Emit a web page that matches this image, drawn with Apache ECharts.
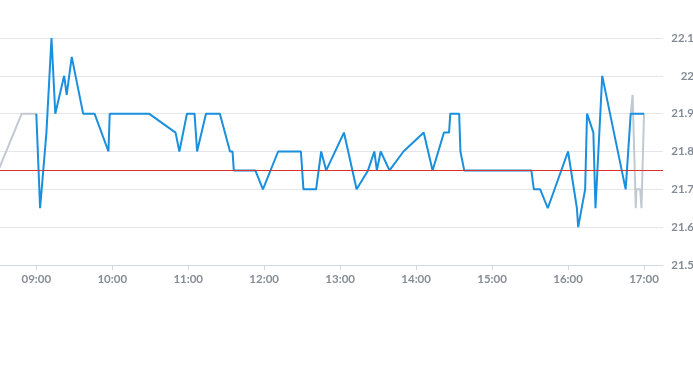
<!DOCTYPE html>
<html>
<head>
<meta charset="utf-8">
<script src="https://cdn.jsdelivr.net/npm/echarts@6/dist/echarts.min.js"></script>
<style>
html,body{margin:0;padding:0;background:#fff;}
#chart{width:693px;height:365px;}
</style>
</head>
<body>
<div id="chart"></div>
<script>
// Regular session (blue)
const sessionTimes = ["09:00","09:03","09:08","09:12","09:15","09:22","09:24","09:28","09:37","09:46","09:57","09:58","10:29","10:50","10:53","10:59","11:05","11:07","11:14","11:25","11:33","11:35","11:36","11:53","11:59","12:11","12:29","12:31","12:41","12:45","12:49","13:03","13:13","13:22","13:27","13:29","13:32","13:39","13:50","14:06","14:13","14:22","14:26","14:27","14:34","14:35","14:38","15:31","15:33","15:38","15:44","16:00","16:07","16:08","16:13:30","16:15","16:20","16:21:40","16:27","16:45:30","16:49:30","17:00"];
const sessionValues = [21.9,21.65,21.85,22.1,21.9,22.0,21.95,22.05,21.9,21.9,21.8,21.9,21.9,21.85,21.8,21.9,21.9,21.8,21.9,21.9,21.8,21.8,21.75,21.75,21.7,21.8,21.8,21.7,21.7,21.8,21.75,21.85,21.7,21.75,21.8,21.75,21.8,21.75,21.8,21.85,21.75,21.85,21.85,21.9,21.9,21.8,21.75,21.75,21.7,21.7,21.65,21.8,21.65,21.6,21.7,21.9,21.85,21.65,22.0,21.7,21.9,21.9];
// Extended hours (gray)
const preTimes = ["08:30","08:48:30","09:00"];
const preValues = [21.75,21.9,21.9];
const postTimes = ["16:49:30","16:51","16:53:30","16:54","16:57","16:58","17:00"];
const postValues = [21.9,21.95,21.65,21.7,21.7,21.65,21.9];
const prevClose = 21.75;
const axisStart = "08:31:20";
const axisEnd = "17:15";
const yTicks = [21.5,21.6,21.7,21.8,21.9,22.0,22.1];

function toTs(s){
  const p = s.split(':').map(Number);
  return new Date(2024,0,2,p[0],p[1],p[2]||0).getTime();
}
function pairs(ts, vs){ return ts.map((t,i)=>[toTs(t), vs[i]]); }
const extData = pairs(preTimes, preValues).concat([[null, null]]).concat(pairs(postTimes, postValues));

const chart = echarts.init(document.getElementById('chart'), null, {renderer:'canvas'});
const labelColor = '#858c96';
chart.setOption({
  animation:false,
  backgroundColor:'#ffffff',
  grid:{left:0, right:30, top:38, bottom:100, containLabel:false, outerBoundsMode:'none'},
  xAxis:{
    type:'time',
    min: toTs(axisStart),
    max: toTs(axisEnd),
    minInterval: 3600000,
    maxInterval: 3600000,
    axisLine:{show:true, lineStyle:{color:'#d3d8df', width:1}},
    axisTick:{show:true, length:5, lineStyle:{color:'#d3d8df'}},
    splitLine:{show:false},
    axisLabel:{
      color:labelColor, fontFamily:'Lato', fontWeight:700, fontSize:11.5, margin:8,
      hideOverlap:false,
      formatter:function(v){
        const d = new Date(v);
        return String(d.getHours()).padStart(2,'0') + ':' + String(d.getMinutes()).padStart(2,'0');
      }
    }
  },
  yAxis:{
    type:'value',
    position:'right',
    min: yTicks[0],
    max: yTicks[yTicks.length-1],
    interval:0.1,
    axisLine:{show:false},
    axisTick:{show:false},
    splitLine:{show:true, lineStyle:{color:'#e3e6ea', width:1}},
    axisLabel:{
      color:labelColor, fontFamily:'Lato', fontWeight:700, fontSize:11.5,
      align:'right', margin:31,
      formatter:function(v){ return String(parseFloat(v.toFixed(2))); }
    }
  },
  series:[
    {
      type:'line', name:'ext', data:extData, showSymbol:false, symbol:'none',
      connectNulls:false, clip:true,
      lineStyle:{color:'#c3c9d1', width:2}, z:2
    },
    {
      type:'line', name:'session', data:pairs(sessionTimes, sessionValues),
      showSymbol:false, symbol:'none', clip:true,
      lineStyle:{color:'#1a8fde', width:2}, z:3,
      markLine:{
        silent:true, symbol:['none','none'], label:{show:false},
        lineStyle:{color:'#d8322c', width:1, type:'solid'},
        data:[{yAxis:prevClose}]
      }
    }
  ]
});
</script>
</body>
</html>
